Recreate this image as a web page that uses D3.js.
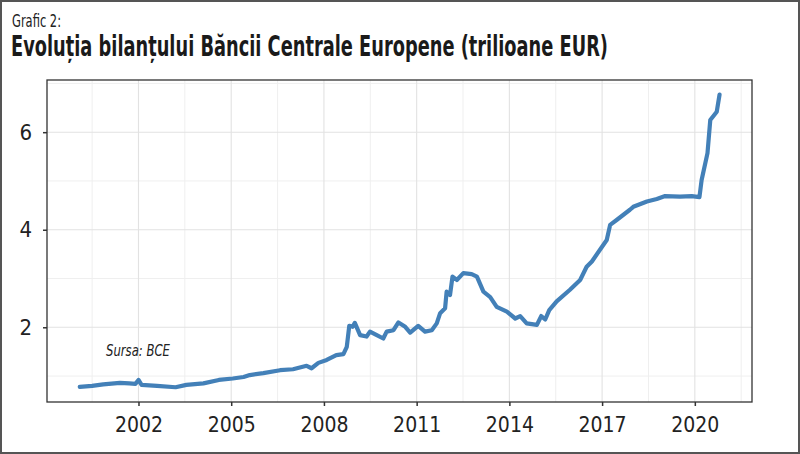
<!DOCTYPE html>
<html>
<head>
<meta charset="utf-8">
<script src="https://cdn.jsdelivr.net/npm/d3@7"></script>
<style>
  body { margin: 0; background: #fff; }
  svg { display: block; }
  .axis text { font-family: "Liberation Sans Narrow", "DejaVu Sans Condensed", sans-serif; fill: #222; }
</style>
</head>
<body>
<svg id="chart" width="800" height="454"></svg>
<script>
// ECB balance sheet, trillion EUR
var dates = [2000.10, 2000.50, 2000.86, 2001.40, 2001.70, 2001.90, 2002.00, 2002.10, 2002.60, 2003.20,
  2003.55, 2004.10, 2004.60, 2005.05, 2005.40, 2005.60, 2006.04, 2006.58, 2007.00, 2007.44,
  2007.60, 2007.82, 2008.09, 2008.40, 2008.63, 2008.74, 2008.82, 2008.93, 2009.00, 2009.17,
  2009.38, 2009.49, 2009.71, 2009.92, 2010.03, 2010.25, 2010.41, 2010.63, 2010.79, 2011.05,
  2011.27, 2011.49, 2011.65, 2011.76, 2011.92, 2011.97, 2012.08, 2012.16, 2012.30, 2012.51,
  2012.78, 2012.95, 2013.16, 2013.38, 2013.59, 2013.92, 2014.19, 2014.35, 2014.56, 2014.89,
  2015.03, 2015.16, 2015.29, 2015.53, 2015.96, 2016.29, 2016.50, 2016.67, 2017.15, 2017.26,
  2017.47, 2017.90, 2018.01, 2018.45, 2018.77, 2019.04, 2019.52, 2019.90, 2020.15, 2020.22,
  2020.41, 2020.50, 2020.71, 2020.80];
var values = [0.78, 0.80, 0.83, 0.86, 0.85, 0.84, 0.92, 0.82, 0.80, 0.77,
  0.82, 0.85, 0.92, 0.95, 0.98, 1.02, 1.06, 1.12, 1.14, 1.21,
  1.16, 1.27, 1.33, 1.43, 1.45, 1.60, 2.03, 2.01, 2.09, 1.84,
  1.81, 1.91, 1.84, 1.77, 1.91, 1.94, 2.10, 2.01, 1.89, 2.03,
  1.91, 1.94, 2.08, 2.29, 2.39, 2.73, 2.66, 3.04, 2.97, 3.11,
  3.09, 3.04, 2.73, 2.62, 2.42, 2.32, 2.18, 2.23, 2.08, 2.05,
  2.23, 2.16, 2.35, 2.53, 2.77, 2.97, 3.24, 3.35, 3.79, 4.10,
  4.20, 4.41, 4.47, 4.58, 4.63, 4.69, 4.68, 4.69, 4.67, 5.02,
  5.57, 6.25, 6.42, 6.77];
var xTicks = [2002, 2005, 2008, 2011, 2014, 2017, 2020];
var xMinor = [2000.5, 2003.5, 2006.5, 2009.5, 2012.5, 2015.5, 2018.5, 2021.5];
var yTicks = [2, 4, 6];
var yMinor = [1, 3, 5, 7];

var svg = d3.select("#chart");
var panel = { left: 47, right: 752, top: 80, bottom: 402 };
var narrow = "Liberation Sans Narrow, DejaVu Sans Condensed, sans-serif";

var x = d3.scaleLinear().domain([1999.04, 2021.85]).range([panel.left, panel.right]);
var y = d3.scaleLinear().domain([0.468, 7.07]).range([panel.bottom, panel.top]);

// outer frame
svg.append("rect")
  .attr("x", 1).attr("y", 1).attr("width", 798).attr("height", 452)
  .attr("fill", "#fff").attr("stroke", "#555").attr("stroke-width", 2);

// titles
svg.append("text")
  .attr("x", 12).attr("y", 27)
  .attr("font-family", narrow)
  .attr("font-size", 17).attr("fill", "#222")
  .attr("textLength", 49).attr("lengthAdjust", "spacingAndGlyphs")
  .text("Grafic 2:");
svg.append("text")
  .attr("x", 11).attr("y", 56)
  .attr("font-family", narrow)
  .attr("font-size", 28).attr("font-weight", "bold").attr("fill", "#1a1a1a")
  .attr("textLength", 597).attr("lengthAdjust", "spacingAndGlyphs")
  .text("Evoluția bilanțului Băncii Centrale Europene (trilioane EUR)");

// grid
var grid = svg.append("g");
grid.selectAll(".vminor").data(xMinor).enter().append("line")
  .attr("x1", function(d) { return x(d); }).attr("x2", function(d) { return x(d); })
  .attr("y1", panel.top).attr("y2", panel.bottom)
  .attr("stroke", "#efefef").attr("stroke-width", 1);
grid.selectAll(".hminor").data(yMinor).enter().append("line")
  .attr("x1", panel.left).attr("x2", panel.right)
  .attr("y1", function(d) { return y(d); }).attr("y2", function(d) { return y(d); })
  .attr("stroke", "#efefef").attr("stroke-width", 1);
grid.selectAll(".vmajor").data(xTicks).enter().append("line")
  .attr("x1", function(d) { return x(d); }).attr("x2", function(d) { return x(d); })
  .attr("y1", panel.top).attr("y2", panel.bottom)
  .attr("stroke", "#e2e2e2").attr("stroke-width", 1.1);
grid.selectAll(".hmajor").data(yTicks).enter().append("line")
  .attr("x1", panel.left).attr("x2", panel.right)
  .attr("y1", function(d) { return y(d); }).attr("y2", function(d) { return y(d); })
  .attr("stroke", "#e2e2e2").attr("stroke-width", 1.1);

// source note
svg.append("text")
  .attr("x", 106).attr("y", 356)
  .attr("font-family", narrow)
  .attr("font-size", 15).attr("font-style", "italic").attr("fill", "#222")
  .attr("textLength", 64).attr("lengthAdjust", "spacingAndGlyphs")
  .text("Sursa: BCE");

// series
var pts = dates.map(function(d, i) { return [d, values[i]]; });
var line = d3.line()
  .x(function(d) { return x(d[0]); })
  .y(function(d) { return y(d[1]); });
svg.append("path")
  .datum(pts)
  .attr("d", line)
  .attr("fill", "none")
  .attr("stroke", "#4380b8")
  .attr("stroke-width", 4.2)
  .attr("stroke-linejoin", "round")
  .attr("stroke-linecap", "round");

// axes
var xAxis = svg.append("g").attr("class", "axis")
  .attr("transform", "translate(0," + panel.bottom + ")")
  .call(d3.axisBottom(x).tickValues(xTicks).tickFormat(d3.format("d")).tickSize(4).tickPadding(11));
xAxis.select(".domain").remove();
xAxis.selectAll("text").attr("font-size", 21);
xAxis.selectAll("line").attr("stroke", "#333").attr("stroke-width", 1.5);

var yAxis = svg.append("g").attr("class", "axis")
  .attr("transform", "translate(" + panel.left + ",0)")
  .call(d3.axisLeft(y).tickValues(yTicks).tickFormat(d3.format("d")).tickSize(4).tickPadding(11));
yAxis.select(".domain").remove();
yAxis.selectAll("text").attr("font-size", 22);
yAxis.selectAll("line").attr("stroke", "#333").attr("stroke-width", 1.5);

// panel border
svg.append("rect")
  .attr("x", panel.left).attr("y", panel.top)
  .attr("width", panel.right - panel.left).attr("height", panel.bottom - panel.top)
  .attr("fill", "none").attr("stroke", "#333").attr("stroke-width", 1.3);
</script>
</body>
</html>
